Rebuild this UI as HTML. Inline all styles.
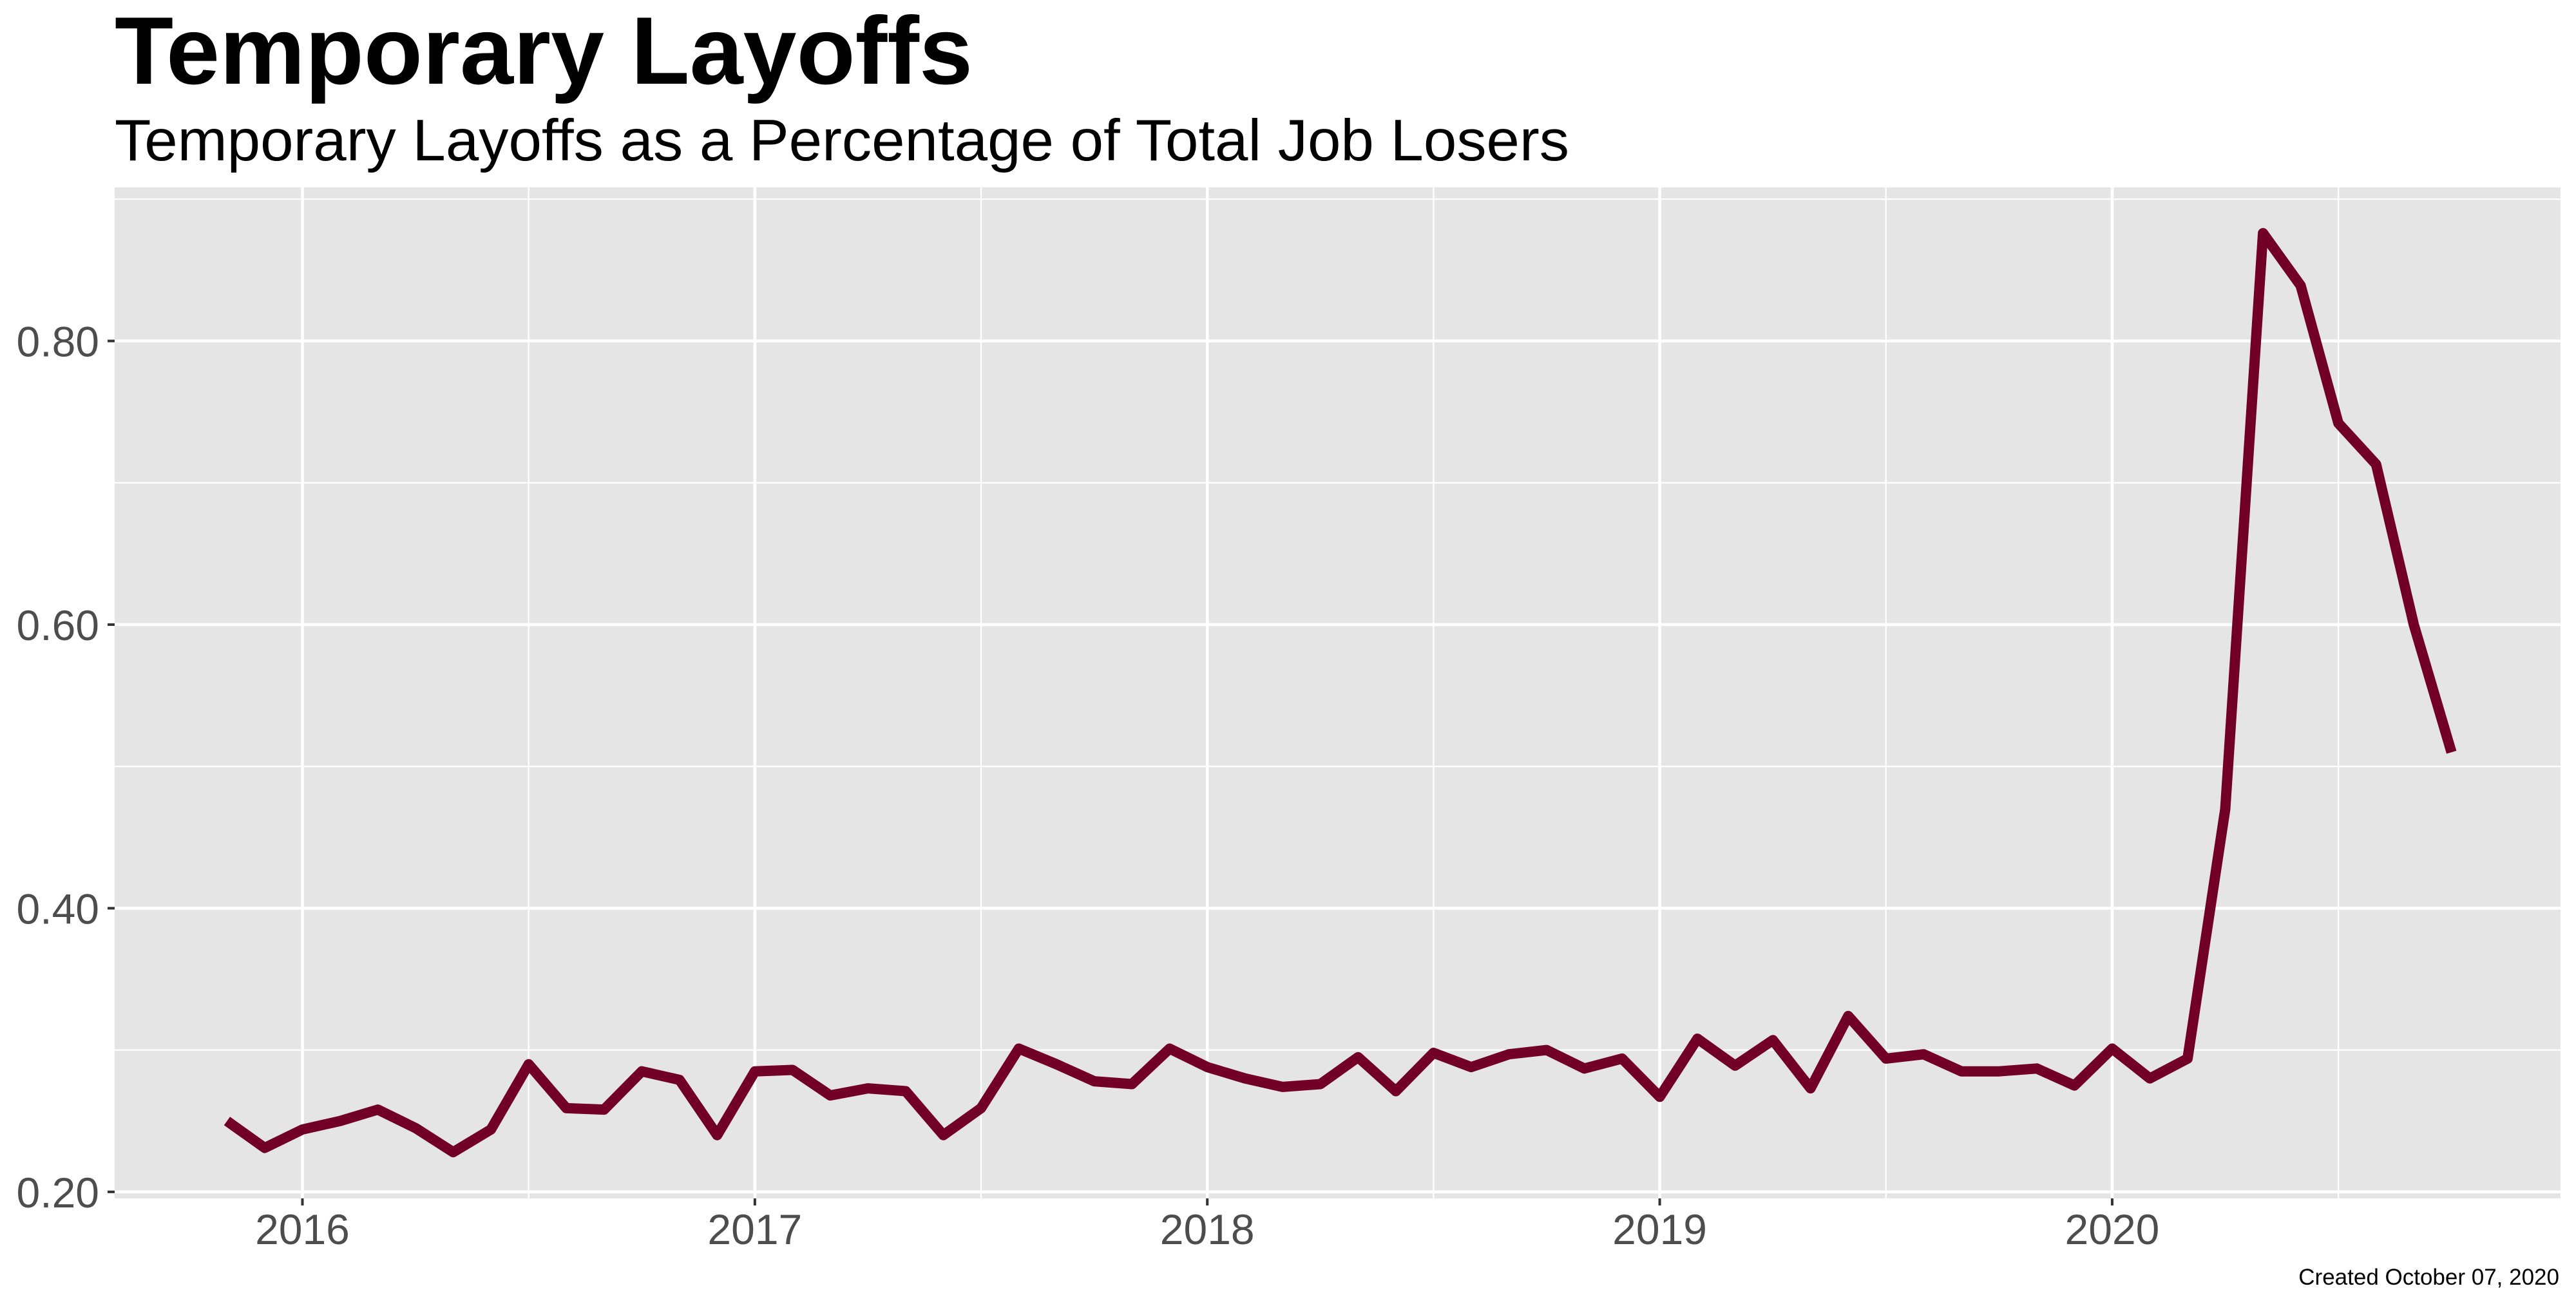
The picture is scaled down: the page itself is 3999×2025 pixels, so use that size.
<!DOCTYPE html>
<html><head><meta charset="utf-8"><style>
html,body{margin:0;padding:0;background:#fff;}
svg{display:block;font-family:"Liberation Sans",Arial,sans-serif;}
</style></head><body>
<svg id="chart" width="3999" height="2025" viewBox="0 0 3999 2025" xmlns="http://www.w3.org/2000/svg">
<rect width="3999" height="2025" fill="#fff"/>
<text x="178" y="130" font-size="149" font-weight="bold" fill="#000" textLength="1332" lengthAdjust="spacingAndGlyphs">Temporary Layoffs</text>
<text x="178" y="249" font-size="91" fill="#000" textLength="2258" lengthAdjust="spacingAndGlyphs">Temporary Layoffs as a Percentage of Total Job Losers</text>
<rect x="178" y="291" width="3797" height="1570" fill="#e5e5e5"/>
<g id="grid"></g>
<g id="series"></g>
<g id="axes"></g>
<text x="3973" y="1995" font-size="35" fill="#000" text-anchor="end">Created October 07, 2020</text>
</svg>
<script>
const months = ["2015-11","2015-12","2016-01","2016-02","2016-03","2016-04","2016-05","2016-06","2016-07","2016-08","2016-09","2016-10","2016-11","2016-12","2017-01","2017-02","2017-03","2017-04","2017-05","2017-06","2017-07","2017-08","2017-09","2017-10","2017-11","2017-12","2018-01","2018-02","2018-03","2018-04","2018-05","2018-06","2018-07","2018-08","2018-09","2018-10","2018-11","2018-12","2019-01","2019-02","2019-03","2019-04","2019-05","2019-06","2019-07","2019-08","2019-09","2019-10","2019-11","2019-12","2020-01","2020-02","2020-03","2020-04","2020-05","2020-06","2020-07","2020-08","2020-09","2020-10"];
const values = [0.250,0.231,0.244,0.250,0.258,0.245,0.228,0.244,0.290,0.259,0.258,0.285,0.279,0.240,0.285,0.286,0.268,0.273,0.271,0.240,0.259,0.301,0.290,0.278,0.276,0.301,0.288,0.280,0.274,0.276,0.295,0.271,0.298,0.288,0.297,0.300,0.287,0.294,0.267,0.308,0.289,0.307,0.273,0.324,0.294,0.297,0.285,0.285,0.287,0.275,0.301,0.280,0.294,0.470,0.876,0.839,0.742,0.713,0.600,0.510];
const yTicks = [0.20,0.40,0.60,0.80];
const yTickLabels = ["0.20","0.40","0.60","0.80"];
const yMinor = [0.30,0.50,0.70,0.90];
const xTicks = [2016,2017,2018,2019,2020];
const xTickLabels = ["2016","2017","2018","2019","2020"];
const xMinor = [2016.5,2017.5,2018.5,2019.5,2020.5];

const PL=178, PR=3975, PT=291, PB=1861;
const X0=2015.585, X1=2020.991, Y0=0.1954, Y1=0.9083;
function xs(v){return PL+(v-X0)/(X1-X0)*(PR-PL);}
function ys(v){return PB-(v-Y0)/(Y1-Y0)*(PB-PT);}
function toYear(m){const p=m.split("-");return +p[0]+(+p[1]-1)/12;}
const NS="http://www.w3.org/2000/svg";
function mk(tag,attrs,parent){const e=document.createElementNS(NS,tag);for(const k in attrs)e.setAttribute(k,attrs[k]);parent.appendChild(e);return e;}
const grid=document.getElementById("grid"), axes=document.getElementById("axes"), series=document.getElementById("series");
yMinor.forEach(v=>{const y=ys(v);if(y<PT)return;const l=mk("line",{x1:PL,x2:PR,y1:y,y2:y,stroke:"#fff","stroke-width":2.3},grid);

});
xMinor.forEach(v=>{const x=xs(v);const l=mk("line",{x1:x,x2:x,y1:PT,y2:PB,stroke:"#fff","stroke-width":2.3},grid);

});
yTicks.forEach((v,i)=>{const y=ys(v);
const l=mk("line",{x1:PL,x2:PR,y1:y,y2:y,stroke:"#fff","stroke-width":4.6},grid);


const t=mk("line",{x1:PL-11,x2:PL,y1:y,y2:y,stroke:"#333","stroke-width":4},axes);


const tx=mk("text",{x:154,y:y+24,"font-size":66,fill:"#4d4d4d","text-anchor":"end"},axes);tx.textContent=yTickLabels[i];

});
xTicks.forEach((v,i)=>{const x=xs(v);
const l=mk("line",{x1:x,x2:x,y1:PT,y2:PB,stroke:"#fff","stroke-width":4.6},grid);


const t=mk("line",{x1:x,x2:x,y1:PB,y2:PB+11,stroke:"#333","stroke-width":4},axes);


const tx=mk("text",{x:x,y:1932,"font-size":66,fill:"#4d4d4d","text-anchor":"middle"},axes);tx.textContent=xTickLabels[i];

});
const pts=months.map((m,i)=>xs(toYear(m)).toFixed(1)+","+ys(values[i]).toFixed(1)).join(" ");
const line=mk("polyline",{points:pts,fill:"none",stroke:"#720026","stroke-width":16,"stroke-linejoin":"round","stroke-linecap":"butt"},series);


</script>
</body></html>
